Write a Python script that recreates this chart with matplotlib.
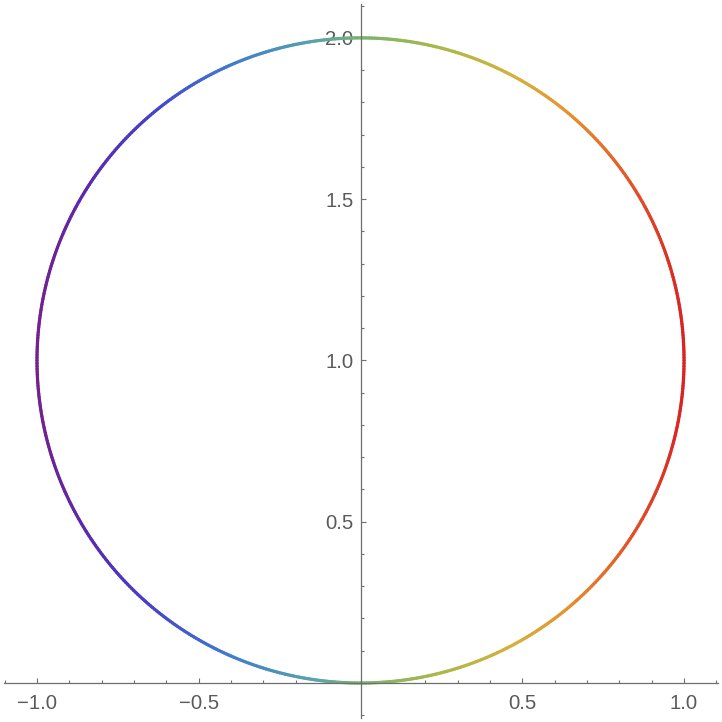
import numpy as np
import matplotlib
matplotlib.use("Agg")
import matplotlib.pyplot as plt
from matplotlib.collections import LineCollection
from matplotlib.colors import LinearSegmentedColormap
from matplotlib.ticker import MultipleLocator, FixedLocator

# data: circle centre (0, 1), radius 1, coloured by x
center = (0.0, 1.0)
radius = 1.0
n_pts = 721
x_ticks = [-1.0, -0.5, 0.5, 1.0]
x_tick_labels = ["\u22121.0", "\u22120.5", "0.5", "1.0"]
y_ticks = [0.5, 1.0, 1.5, 2.0]
y_tick_labels = ["0.5", "1.0", "1.5", "2.0"]

# Mathematica-like "Rainbow" gradient
rainbow = LinearSegmentedColormap.from_list("rainbow_m", [
	(0.00, "#74208e"),
	(0.08, "#5a2ab0"),
	(0.16, "#4a3cc6"),
	(0.28, "#3f74d2"),
	(0.42, "#55a2b0"),
	(0.50, "#79b46c"),
	(0.62, "#aab84a"),
	(0.74, "#d8b03a"),
	(0.82, "#e6922f"),
	(0.91, "#e35a27"),
	(1.00, "#d92424"),
])

t = np.linspace(0, 2 * np.pi, n_pts)
xs = center[0] + radius * np.cos(t)
ys = center[1] + radius * np.sin(t)

fig = plt.figure(figsize=(7.22, 7.22), dpi=100)
ax = fig.add_axes([4 / 722, 4 / 722, 714 / 722, 714 / 722])
ax.set_xlim(-1.102, 1.105)
ax.set_ylim(-0.1085, 2.105)

pts = np.column_stack([xs, ys]).reshape(-1, 1, 2)
segs = np.concatenate([pts[:-1], pts[1:]], axis=1)
lc = LineCollection(segs, cmap=rainbow, linewidths=2.3, capstyle="round")
lc.set_array((xs[:-1] + xs[1:]) / 2)
lc.set_clim(-1, 1)
ax.add_collection(lc)

axis_col = "#6e6e6e"
for side in ["top", "right"]:
	ax.spines[side].set_visible(False)
ax.spines["left"].set_position(("data", 0))
ax.spines["bottom"].set_position(("data", 0))
for side in ["left", "bottom"]:
	ax.spines[side].set_color(axis_col)
	ax.spines[side].set_linewidth(0.9)

ax.xaxis.set_major_locator(FixedLocator(x_ticks))
ax.set_xticklabels(x_tick_labels)
ax.yaxis.set_major_locator(FixedLocator(y_ticks))
ax.set_yticklabels(y_tick_labels)
ax.xaxis.set_minor_locator(MultipleLocator(0.1))
ax.yaxis.set_minor_locator(MultipleLocator(0.1))

ax.tick_params(which="both", direction="in", color=axis_col, width=0.8,
	labelcolor="#5a5a5a", labelsize=14.6, labelfontfamily="Liberation Sans")
ax.tick_params(which="major", length=3.5)
ax.tick_params(which="minor", length=2.2)
ax.tick_params(axis="x", which="major", pad=8)
ax.tick_params(axis="y", which="major", pad=5)

plt.savefig("out.png", dpi=100)
